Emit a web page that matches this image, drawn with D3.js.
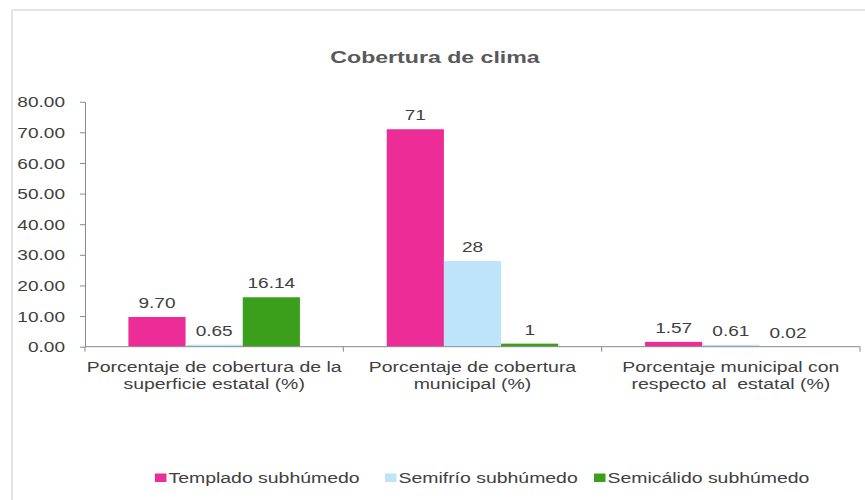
<!DOCTYPE html>
<html><head><meta charset="utf-8">
<script src="https://cdn.jsdelivr.net/npm/d3@7"></script>
<style>
html,body{margin:0;padding:0;background:#fff;}
svg{display:block;}
text{font-family:"Liberation Sans",Arial,sans-serif;}
</style></head>
<body>
<svg id="chart" width="865" height="500"></svg>
<script>
const title = "Cobertura de clima";
const categories = [
  ["Porcentaje de cobertura de la", "superficie estatal (%)"],
  ["Porcentaje de cobertura", "municipal (%)"],
  ["Porcentaje municipal con", "respecto al  estatal (%)"]
];
const seriesNames = ["Templado subhúmedo", "Semifrío subhúmedo", "Semicálido subhúmedo"];
const seriesColors = ["#ec2d98", "#bee4f9", "#3c9f1b"];
const templado = [9.70, 71, 1.57];
const semifrio = [0.65, 28, 0.61];
const semicalido = [16.14, 1, 0.02];
const valueLabels = [
  ["9.70", "71", "1.57"],
  ["0.65", "28", "0.61"],
  ["16.14", "1", "0.02"]
];
const yTicks = [0, 10, 20, 30, 40, 50, 60, 70, 80];

(function () {
const series = [templado, semifrio, semicalido];
const SX = 1.36;
const svg = d3.select("#chart");

// frame
svg.append("line").attr("x1", 12).attr("x2", 865).attr("y1", 10).attr("y2", 10)
  .attr("stroke", "#e3e3e3").attr("stroke-width", 2);
svg.append("line").attr("x1", 12).attr("x2", 12).attr("y1", 10).attr("y2", 500)
  .attr("stroke", "#e3e3e3").attr("stroke-width", 2);

function txt(parent, x, yy, s, size, anchor, fill, weight) {
  return parent.append("text")
    .attr("transform", `translate(${x},${yy}) scale(${SX},1)`)
    .attr("text-anchor", anchor)
    .attr("font-size", size)
    .attr("font-weight", weight || "normal")
    .attr("fill", fill)
    .style("white-space", "pre")
    .text(s);
}

const pLeft = 85, pRight = 860, pTop = 101.7, pBottom = 346.7;
const catIdx = categories.map((d, i) => i);
const x0 = d3.scaleBand().domain(catIdx).range([pLeft, pRight]).padding(0);
const bw = x0.bandwidth();
const x1 = d3.scaleBand().domain(d3.range(series.length)).range([bw * 0.168, bw * 0.832]).padding(0);
const y = d3.scaleLinear().domain([0, 80]).range([pBottom, pTop]);

// title
txt(svg, 435, 63, title, 17, "middle", "#595959", "bold");

// bars
const groups = svg.append("g").selectAll("g").data(catIdx).join("g")
  .attr("transform", i => `translate(${x0(i)},0)`);
groups.each(function(ci) {
  const g = d3.select(this);
  series.forEach((s, si) => {
    g.append("rect")
      .attr("x", x1(si)).attr("width", x1.bandwidth())
      .attr("y", y(s[ci])).attr("height", pBottom - y(s[ci]))
      .attr("fill", seriesColors[si]);
    txt(g, x1(si) + x1.bandwidth() / 2, y(s[ci]) - 9, valueLabels[si][ci], 14, "middle", "#404040");
  });
});

// y axis
const yAxis = svg.append("g").attr("transform", `translate(${pLeft},0)`)
  .call(d3.axisLeft(y).tickValues(yTicks).tickFormat(d3.format(".2f")).tickSize(5).tickSizeOuter(0));
yAxis.select(".domain").attr("stroke", "#8a8a8a");
yAxis.selectAll(".tick line").attr("stroke", "#8a8a8a");
yAxis.selectAll(".tick text")
  .attr("x", -20 / SX).attr("dy", "0.36em")
  .attr("transform", `scale(${SX},1)`)
  .attr("font-size", 14).attr("fill", "#404040")
  .attr("font-family", "Liberation Sans, Arial, sans-serif");

// x axis
svg.append("line").attr("x1", pLeft).attr("x2", pRight).attr("y1", pBottom).attr("y2", pBottom)
  .attr("stroke", "#8a8a8a");
const sep = catIdx.map(i => x0(i)).concat([x0(catIdx[catIdx.length - 1]) + bw]);
svg.append("g").selectAll("line").data(sep).join("line")
  .attr("x1", d => d).attr("x2", d => d).attr("y1", pBottom).attr("y2", pBottom + 5)
  .attr("stroke", "#8a8a8a");

// category labels
catIdx.forEach(i => {
  const cx = x0(i) + bw / 2;
  txt(svg, cx, 372, categories[i][0], 14.3, "middle", "#404040");
  txt(svg, cx, 389, categories[i][1], 14.3, "middle", "#404040");
});

// legend
const legX = [155, 385, 594];
seriesNames.forEach((n, i) => {
  svg.append("rect").attr("x", legX[i]).attr("y", 473.5).attr("width", 11.5).attr("height", 8.5)
    .attr("fill", seriesColors[i]);
  txt(svg, legX[i] + 13.5, 483, n, 14.3, "start", "#404040");
});
})();
</script>
</body></html>
